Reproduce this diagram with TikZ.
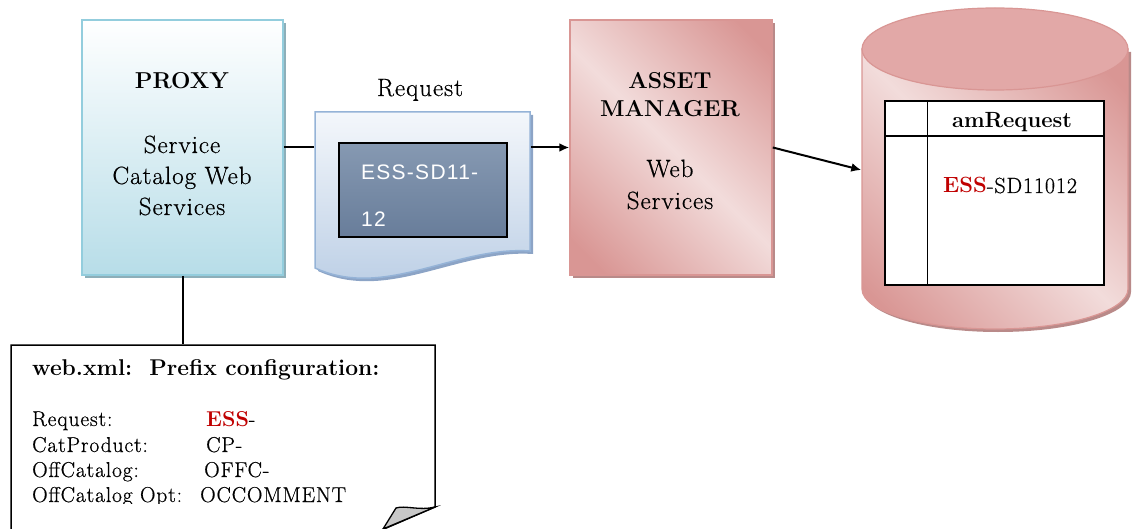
\documentclass[tikz,border=0pt]{standalone}
\usepackage{fontspec}
\setmainfont{Latin Modern Roman}[LetterSpace=4,FakeBold=0.6]
\newfontfamily\boldserif{Latin Modern Roman}
\newfontfamily\arialfont{Liberation Sans}[LetterSpace=6]
\usetikzlibrary{shadows,arrows.meta}

\definecolor{proxyline}{HTML}{93CDDD}
\definecolor{proxyfill}{HTML}{B7DDE8}
\definecolor{proxyshadow}{HTML}{8DAFB9}
\definecolor{docline}{HTML}{95B3D7}
\definecolor{doctop}{HTML}{F4F7FB}
\definecolor{docbottom}{HTML}{B8CCE4}
\definecolor{docshadow}{HTML}{8CA4C6}
\definecolor{slatetop}{HTML}{8699B2}
\definecolor{slatebottom}{HTML}{687D9A}
\definecolor{pinkD}{HTML}{D99694}
\definecolor{pinkL}{HTML}{F2DCDB}
\definecolor{pinkline}{HTML}{D99694}
\definecolor{pinkshadow}{HTML}{B98A89}
\definecolor{pinktop}{HTML}{E2A8A7}
\definecolor{essred}{HTML}{C00000}
\definecolor{foldgray}{HTML}{C8C8C8}

% diagonal pink gradient: dark at two opposite corners, light across the middle
\pgfdeclarehorizontalshading{pinkmirror}{100bp}{color(0bp)=(pinkD); color(20bp)=(pinkD); color(50bp)=(pinkL); color(80bp)=(pinkD); color(100bp)=(pinkD)}

\newcommand\redprefix{\textcolor{essred}{\boldserif\bfseries ESS}}

\tikzset{
  big/.style={font=\fontsize{25}{31}\selectfont},
  bigbold/.style={font=\boldserif\fontsize{23}{31}\selectfont\bfseries},
  notefont/.style={font=\fontsize{21.5}{25}\selectfont},
  box/.style={rectangle, inner sep=0pt, line width=1.5pt},
  link/.style={line width=2pt, draw=black},
  arrowlink/.style={link, -{Latex[length=10pt,width=9pt]}},
  hshadow/.style={general shadow={fill=#1, shadow xshift=3pt, shadow yshift=-3pt}},
}

\begin{document}
\begin{tikzpicture}[x=1pt,y=-1pt]
\useasboundingbox (0,0) rectangle (1134,529);

% ---- proxy ----
\node[box, draw=proxyline, top color=white, bottom color=proxyfill,
      hshadow=proxyshadow, minimum width=201pt, minimum height=255pt] (proxy) at (182.5,147.5) {};
\node[bigbold, anchor=base] (proxytitle) at (182,89) {PROXY};
\node[big, anchor=base] (proxyl1) at (182,153) {Service};
\node[big, anchor=base] (proxyl2) at (182,184) {Catalog Web};
\node[big, anchor=base] (proxyl3) at (182,215) {Services};

% ---- request document ----
\node[box, minimum width=215pt, minimum height=156pt] (doc) at (422.5,190) {};
\path[hshadow=docshadow, draw=docline, line width=1.5pt, top color=doctop, bottom color=docbottom]
  (315,112) -- (530,112) -- (530,251) .. controls (455,246) and (385,300) .. (315,268) -- cycle;
\node[box, draw=black, line width=1.3pt, top color=slatetop, bottom color=slatebottom,
      minimum width=168pt, minimum height=94pt] (reqid) at (423,190) {};
\node[anchor=base west, inner sep=0pt, text=white, font=\arialfont\fontsize{21}{47}\selectfont] (reqid1) at (361,180) {ESS-SD11-};
\node[anchor=base west, inner sep=0pt, text=white, font=\arialfont\fontsize{21}{47}\selectfont] (reqid2) at (361,227) {12};
\node[big, anchor=base] (reqlabel) at (420,96) {Request};

% ---- asset manager ----
\node[box, draw=pinkline, shading=pinkmirror, shading angle=45, hshadow=pinkshadow,
      minimum width=202pt, minimum height=255pt] (am) at (671,147.5) {};
\node[bigbold, anchor=base] (amt1) at (670,89) {ASSET};
\node[bigbold, anchor=base] (amt2) at (670,117) {MANAGER};
\node[big, anchor=base] (aml1) at (670,177) {Web};
\node[big, anchor=base] (aml2) at (670,209) {Services};

% ---- database cylinder ----
\node[box, minimum width=266pt, minimum height=325pt] (db) at (995,170) {};
\path[hshadow=pinkshadow, draw=pinkline, line width=1.2pt, shading=pinkmirror, shading angle=45]
  (862,49) -- (862,289) arc[start angle=180, end angle=0, x radius=133, y radius=40] -- (1128,49) -- cycle;
\path[draw=pinkline, fill=pinktop, line width=1.2pt] (995,49) ellipse[x radius=133, y radius=41];

% table inside the database
\node[box, draw=black, fill=white, minimum width=219pt, minimum height=184pt] (tbl) at (994.5,193) {};
\draw[line width=1.5pt] ([xshift=43pt]tbl.north west) -- ([xshift=43pt]tbl.south west);
\draw[line width=1.5pt] ([yshift=-36pt]tbl.north west) -- ([yshift=-36pt]tbl.north east);
\node[anchor=base, font=\boldserif\fontsize{22}{26}\selectfont\bfseries] (colname) at (1012,128) {amRequest};
\node[anchor=base west, inner sep=0pt, font=\fontsize{22}{26}\selectfont] (amid) at (943,193)
  {\redprefix-SD11012};

% ---- configuration note ----
\node[box, minimum width=424pt, minimum height=200pt] (note) at (223,445) {};
\draw[line width=1.5pt, fill=white] (11,560) -- (11,345) -- (435,345) -- (435,507) -- (370,535);
\draw[line width=1.3pt, fill=foldgray]
  (435,507) .. controls (420,511) and (405,505) .. (396,508) -- (383,529) -- cycle;
\begin{scope}
  \clip (11,345) rectangle (435,503.5);
  \node[anchor=base west, inner sep=0pt, font=\boldserif\fontsize{22.8}{25}\selectfont\bfseries] (notehead) at (32,375)
    {web.xml:\ \ Prefix configuration:};
  \node[notefont, anchor=base west, inner sep=0pt] (k1) at (32,426) {Request:};
  \node[notefont, anchor=base west, inner sep=0pt] (v1) at (206,426) {\redprefix-};
  \node[notefont, anchor=base west, inner sep=0pt] (k2) at (32,452) {CatProduct:};
  \node[notefont, anchor=base west, inner sep=0pt] (v2) at (206,452) {CP-};
  \node[notefont, anchor=base west, inner sep=0pt] (k3) at (32,477) {OffCatalog:};
  \node[notefont, anchor=base west, inner sep=0pt] (v3) at (204,477) {OFFC-};
  \node[notefont, anchor=base west, inner sep=0pt] (k4) at (32,502) {OffCatalog Opt:};
  \node[notefont, anchor=base west, inner sep=0pt] (v4) at (200,502) {OCCOMMENT};
\end{scope}

% ---- connectors ----
\draw[link] (proxy.east) -- (proxy.east -| doc.west);
\draw[arrowlink] (doc.east |- am.west) -- (am.west);
\draw[arrowlink] (am.east) -- (db.west);
\draw[link] (proxy.south) -- (proxy.south |- note.north);
\end{tikzpicture}
\end{document}
